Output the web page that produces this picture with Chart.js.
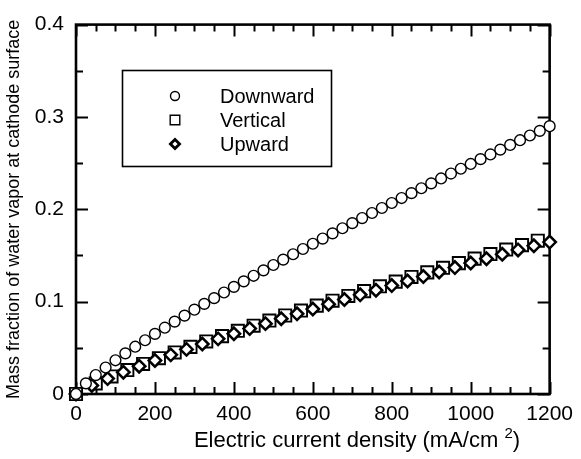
<!DOCTYPE html>
<html>
<head>
<meta charset="utf-8">
<script src="https://cdn.jsdelivr.net/npm/chart.js@4.4.0/dist/chart.umd.min.js"></script>
<style>
  html, body { margin: 0; padding: 0; background: #fff; }
</style>
</head>
<body>
<canvas id="chart" width="581" height="459"></canvas>
<script>
// Downward (circles)
const downX = [0, 25, 50, 75, 100, 125, 150, 175, 200, 225, 250, 275, 300, 325, 350, 375, 400, 425, 450, 475,
  500, 525, 550, 575, 600, 625, 650, 675, 700, 725, 750, 775, 800, 825, 850, 875, 900, 925, 950, 975,
  1000, 1025, 1050, 1075, 1100, 1125, 1150, 1175, 1200];
const downY = [0, 0.0115, 0.0205, 0.0287, 0.0365, 0.0440, 0.0512, 0.0582, 0.0651, 0.0718, 0.0784, 0.0849, 0.0913, 0.0976, 0.1038, 0.1099, 0.1160, 0.1220, 0.1280, 0.1339,
  0.1397, 0.1455, 0.1513, 0.1570, 0.1627, 0.1683, 0.1739, 0.1795, 0.1850, 0.1905, 0.1960, 0.2014, 0.2068, 0.2122, 0.2175, 0.2228, 0.2281, 0.2334, 0.2387, 0.2439,
  0.2491, 0.2543, 0.2594, 0.2646, 0.2697, 0.2748, 0.2799, 0.2849, 0.2900];

// Vertical (squares)
const vertX = [0, 50, 90, 130, 170, 210, 250, 290, 330, 370, 410, 450, 490, 530, 570, 610, 650, 690, 730, 770,
  810, 850, 890, 930, 970, 1010, 1050, 1090, 1130, 1170];
const vertY = [0, 0.0115, 0.0190, 0.0259, 0.0325, 0.0388, 0.0450, 0.0510, 0.0569, 0.0627, 0.0684, 0.0740, 0.0795, 0.0850, 0.0904, 0.0957,
  0.1010, 0.1062, 0.1114, 0.1166, 0.1217, 0.1267, 0.1317, 0.1367, 0.1417, 0.1466, 0.1515, 0.1564, 0.1612, 0.1660];

// Upward (diamonds)
const upX = [0, 40, 80, 120, 160, 200, 240, 280, 320, 360, 400, 440, 480, 520, 560, 600, 640, 680, 720, 760,
  800, 840, 880, 920, 960, 1000, 1040, 1080, 1120, 1160, 1200];
const upY = [0, 0.0093, 0.0167, 0.0236, 0.0301, 0.0363, 0.0424, 0.0483, 0.0541, 0.0597, 0.0653, 0.0708, 0.0762, 0.0815, 0.0868, 0.0920,
  0.0972, 0.1023, 0.1074, 0.1124, 0.1174, 0.1223, 0.1272, 0.1321, 0.1369, 0.1418, 0.1465, 0.1513, 0.1560, 0.1605, 0.1645];

const seriesNames = ["Downward", "Vertical", "Upward"];
const xTicks = [0, 200, 400, 600, 800, 1000, 1200];
const yTicks = [0, 0.1, 0.2, 0.3, 0.4];
const xTitle = ["Electric current density (mA/cm ", "2", ")"];
const yTitle = "Mass fraction of water vapor at cathode surface";

const FONT = "'Liberation Sans', Arial, sans-serif";

const toPoints = (xs, ys) => xs.map((x, i) => ({ x, y: ys[i] }));

// frame with inward ticks on all four sides
const frameTicks = {
  id: "frameTicks",
  beforeDatasetsDraw(chart) {
    const { ctx, chartArea: a, scales: { x, y } } = chart;
    ctx.save();
    ctx.strokeStyle = "#000";
    ctx.lineWidth = 2;
    ctx.beginPath();
    for (let i = 0; i <= 24; i += 1) {
      const px = Math.round(x.getPixelForValue(i * 50)) + 0.5;
      const len = i % 4 === 0 ? 12 : 7;
      ctx.moveTo(px, a.bottom); ctx.lineTo(px, a.bottom - len);
      ctx.moveTo(px, a.top); ctx.lineTo(px, a.top + len);
    }
    for (let i = 0; i <= 8; i += 1) {
      const py = Math.round(y.getPixelForValue(i * 0.05)) + 0.5;
      const len = i % 2 === 0 ? 12 : 7;
      ctx.moveTo(a.left, py); ctx.lineTo(a.left + len, py);
      ctx.moveTo(a.right, py); ctx.lineTo(a.right - len, py);
    }
    ctx.stroke();
    ctx.lineWidth = 2.6;
    ctx.strokeRect(a.left, a.top, a.right - a.left, a.bottom - a.top);
    ctx.restore();
  }
};

// x title with a raised "2"
const xTitleDraw = {
  id: "xTitleDraw",
  afterDraw(chart) {
    const { ctx } = chart;
    ctx.save();
    ctx.fillStyle = "#000";
    ctx.textBaseline = "alphabetic";
    ctx.font = "22px " + FONT;
    const w1 = ctx.measureText(xTitle[0]).width;
    const w3 = ctx.measureText(xTitle[2]).width;
    ctx.font = "15px " + FONT;
    const w2 = ctx.measureText(xTitle[1]).width;
    const total = w1 + w2 + w3;
    const x0 = 357 - total / 2;
    const base = 447;
    ctx.font = "22px " + FONT;
    ctx.fillText(xTitle[0], x0, base);
    ctx.font = "15px " + FONT;
    ctx.fillText(xTitle[1], x0 + w1, base - 9);
    ctx.font = "22px " + FONT;
    ctx.fillText(xTitle[2], x0 + w1 + w2, base);
    ctx.restore();
  }
};

// boxed legend inside the plot
const boxLegend = {
  id: "boxLegend",
  afterDraw(chart) {
    const { ctx } = chart;
    ctx.save();
    ctx.fillStyle = "#fff";
    ctx.fillRect(122, 70, 210, 97);
    ctx.strokeStyle = "#000";
    ctx.lineWidth = 1.6;
    ctx.strokeRect(122.5, 70.5, 209, 96);
    const rows = [96, 120, 144];
    ctx.font = "20px " + FONT;
    ctx.textBaseline = "middle";
    ctx.fillStyle = "#000";
    seriesNames.forEach((name, i) => {
      const cy = rows[i];
      const cx = 175;
      ctx.beginPath();
      if (i === 0) {
        ctx.lineWidth = 1.4;
        ctx.arc(cx, cy, 4.5, 0, Math.PI * 2);
      } else if (i === 1) {
        ctx.lineWidth = 1.4;
        ctx.rect(cx - 4.8, cy - 4.8, 9.6, 9.6);
      } else {
        ctx.lineWidth = 2.8;
        ctx.moveTo(cx - 4.6, cy); ctx.lineTo(cx, cy - 4.6);
        ctx.lineTo(cx + 4.6, cy); ctx.lineTo(cx, cy + 4.6); ctx.closePath();
      }
      ctx.stroke();
      ctx.fillText(name, 220, cy + 1);
    });
    ctx.restore();
  }
};

new Chart(document.getElementById("chart"), {
  type: "scatter",
  data: {
    datasets: [
      {
        label: seriesNames[0],
        data: toPoints(downX, downY),
        pointStyle: "circle",
        pointRadius: 5.4,
        borderWidth: 1.4,
        borderColor: "#000",
        backgroundColor: "#fff",
        clip: false,
        order: 0
      },
      {
        label: seriesNames[1],
        data: toPoints(vertX, vertY),
        pointStyle: "rect",
        pointRadius: 8.6,
        borderWidth: 1.9,
        borderColor: "#000",
        backgroundColor: "#fff",
        clip: false,
        order: 2
      },
      {
        label: seriesNames[2],
        data: toPoints(upX, upY),
        pointStyle: "rectRot",
        pointRadius: 6.2,
        borderWidth: 2.5,
        borderColor: "#000",
        backgroundColor: "#fff",
        clip: false,
        order: 1
      }
    ]
  },
  options: {
    responsive: false,
    animation: false,
    events: [],
    layout: { padding: { left: 0, top: 22, right: 18, bottom: 0 } },
    plugins: {
      legend: { display: false },
      tooltip: { enabled: false }
    },
    scales: {
      x: {
        type: "linear",
        min: 0,
        max: 1200,
        afterFit: scale => { scale.height = 65; },
        afterBuildTicks: scale => { scale.ticks = xTicks.map(v => ({ value: v })); },
        grid: { display: false, drawTicks: false },
        border: { display: false },
        ticks: {
          padding: 8,
          color: "#000",
          maxRotation: 0,
          font: { family: FONT, size: 21 },
          callback: v => String(v)
        },
        title: { display: false }
      },
      y: {
        type: "linear",
        min: 0,
        max: 0.4,
        afterFit: scale => { scale.width = 76; },
        afterBuildTicks: scale => { scale.ticks = yTicks.map(v => ({ value: v })); },
        grid: { display: false, drawTicks: false },
        border: { display: false },
        ticks: {
          padding: 12,
          color: "#000",
          font: { family: FONT, size: 21 },
          callback: v => (v === 0 ? "0" : v.toFixed(1))
        },
        title: {
          display: true,
          text: yTitle,
          color: "#000",
          font: { family: FONT, size: 18 },
          padding: { top: 3, bottom: 0 }
        }
      }
    }
  },
  plugins: [frameTicks, xTitleDraw, boxLegend]
});
</script>
</body>
</html>
